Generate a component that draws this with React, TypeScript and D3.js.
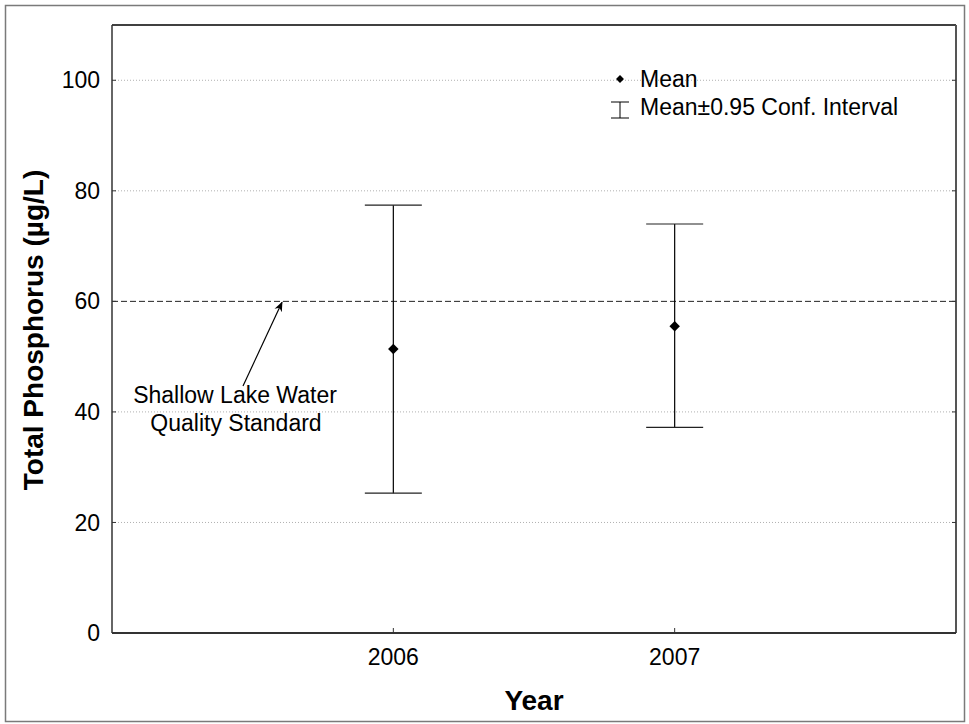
// Mean ± 95% CI of total phosphorus by year, with the shallow-lake standard line.
import * as d3 from "d3";

const years = ["2006", "2007"];
const means = [51.4, 55.5];
const lower = [25.3, 37.2];
const upper = [77.4, 74.0];
const yTicks = [0, 20, 40, 60, 80, 100];
const standard = 60;

const W = 969, H = 724;
const M = { left: 112, right: 956, top: 25, bottom: 633 };
const FONT = "'Liberation Sans', Arial, Helvetica, sans-serif";

export default function App() {
  const x = d3.scalePoint<string>().domain(years).range([M.left, M.right]).padding(1);
  const y = d3.scaleLinear().domain([0, 110]).range([M.bottom, M.top]);
  const diamond = d3.symbol().type(d3.symbolDiamond2).size(70)();
  const diamondSmall = d3.symbol().type(d3.symbolDiamond2).size(40)();
  const capW = 57;

  // arrow pointing at the standard line
  const arrowTail: [number, number] = [243, 386];
  const arrowHead: [number, number] = [282, y(standard) + 1];

  return (
    <svg width={W} height={H} style={{ position: "absolute", left: 0, top: 0, background: "#fff" }}
         fontFamily={FONT}>
      <defs>
        <marker id="ah" viewBox="0 0 10 10" refX="9" refY="5" markerWidth="10" markerHeight="10"
                markerUnits="userSpaceOnUse" orient="auto">
          <path d="M0,1 L10,5 L0,9 L3,5 Z" fill="#000" />
        </marker>
      </defs>
      <rect x={5.5} y={5.5} width={959} height={716} fill="none" stroke="#7a7a7a" strokeWidth={1.5} />

      {/* gridlines */}
      {yTicks.filter((t) => t > 0 && t !== standard).map((t) => (
        <line key={t} x1={M.left} x2={M.right} y1={y(t)} y2={y(t)}
              stroke="#b0b0b0" strokeWidth={1} strokeDasharray="1,2" />
      ))}
      {/* standard line */}
      <line x1={M.left} x2={M.right} y1={y(standard)} y2={y(standard)}
            stroke="#222" strokeWidth={1} strokeDasharray="6,3" />

      {/* frame */}
      <line x1={M.left} x2={M.right} y1={M.top} y2={M.top} stroke="#000" strokeWidth={1.5} />
      <line x1={M.left} x2={M.left} y1={M.top} y2={M.bottom} stroke="#333" strokeWidth={1.5} />
      <line x1={M.right} x2={M.right} y1={M.top} y2={M.bottom} stroke="#555" strokeWidth={2} />
      <line x1={M.left} x2={M.right} y1={M.bottom} y2={M.bottom} stroke="#333" strokeWidth={2} />

      {/* y ticks */}
      {yTicks.map((t) => (
        <g key={t}>
          <line x1={M.left} x2={M.left + 4} y1={y(t)} y2={y(t)} stroke="#333" />
          <line x1={M.right - 4} x2={M.right} y1={y(t)} y2={y(t)} stroke="#333" />
          <text x={M.left - 12} y={y(t)} dy="0.35em" textAnchor="end" fontSize={23} fill="#000">{t}</text>
        </g>
      ))}
      {/* x ticks */}
      {years.map((yr) => (
        <g key={yr}>
          <line x1={x(yr)} x2={x(yr)} y1={M.bottom} y2={M.bottom - 5} stroke="#333" />
          <text x={x(yr)} y={665} textAnchor="middle" fontSize={23} fill="#000">{yr}</text>
        </g>
      ))}

      {/* error bars */}
      {years.map((yr, i) => {
        const cx = x(yr) as number;
        return (
          <g key={yr}>
            <line x1={cx} x2={cx} y1={y(upper[i])} y2={y(lower[i])} stroke="#000" strokeWidth={1.2} />
            <line x1={cx - capW / 2} x2={cx + capW / 2} y1={y(upper[i])} y2={y(upper[i])} stroke="#222" strokeWidth={1.2} />
            <line x1={cx - capW / 2} x2={cx + capW / 2} y1={y(lower[i])} y2={y(lower[i])} stroke="#222" strokeWidth={1.2} />
            <path d={diamond ?? ""} transform={`translate(${cx},${y(means[i])})`} fill="#000" />
          </g>
        );
      })}

      {/* annotation */}
      <line x1={arrowTail[0]} y1={arrowTail[1]} x2={arrowHead[0]} y2={arrowHead[1]}
            stroke="#000" strokeWidth={1.2} markerEnd="url(#ah)" />
      <text x={235} y={403} textAnchor="middle" fontSize={23} fill="#000">Shallow Lake Water</text>
      <text x={236} y={431} textAnchor="middle" fontSize={23} fill="#000">Quality Standard</text>

      {/* legend */}
      <path d={diamondSmall ?? ""} transform="translate(620,79)" fill="#000" />
      <text x={640} y={87} fontSize={23} fill="#000">Mean</text>
      <line x1={620} x2={620} y1={102} y2={118} stroke="#000" />
      <line x1={611} x2={629} y1={102} y2={102} stroke="#000" />
      <line x1={611} x2={629} y1={118} y2={118} stroke="#000" />
      <text x={640} y={115} fontSize={23} fill="#000">Mean±0.95 Conf. Interval</text>

      {/* axis titles */}
      <text x={534} y={710} textAnchor="middle" fontSize={28} fontWeight="bold" fill="#000">Year</text>
      <text transform={`translate(43,330) rotate(-90)`} textAnchor="middle" fontSize={28}
            fontWeight="bold" fill="#000">Total Phosphorus (µg/L)</text>
    </svg>
  );
}
